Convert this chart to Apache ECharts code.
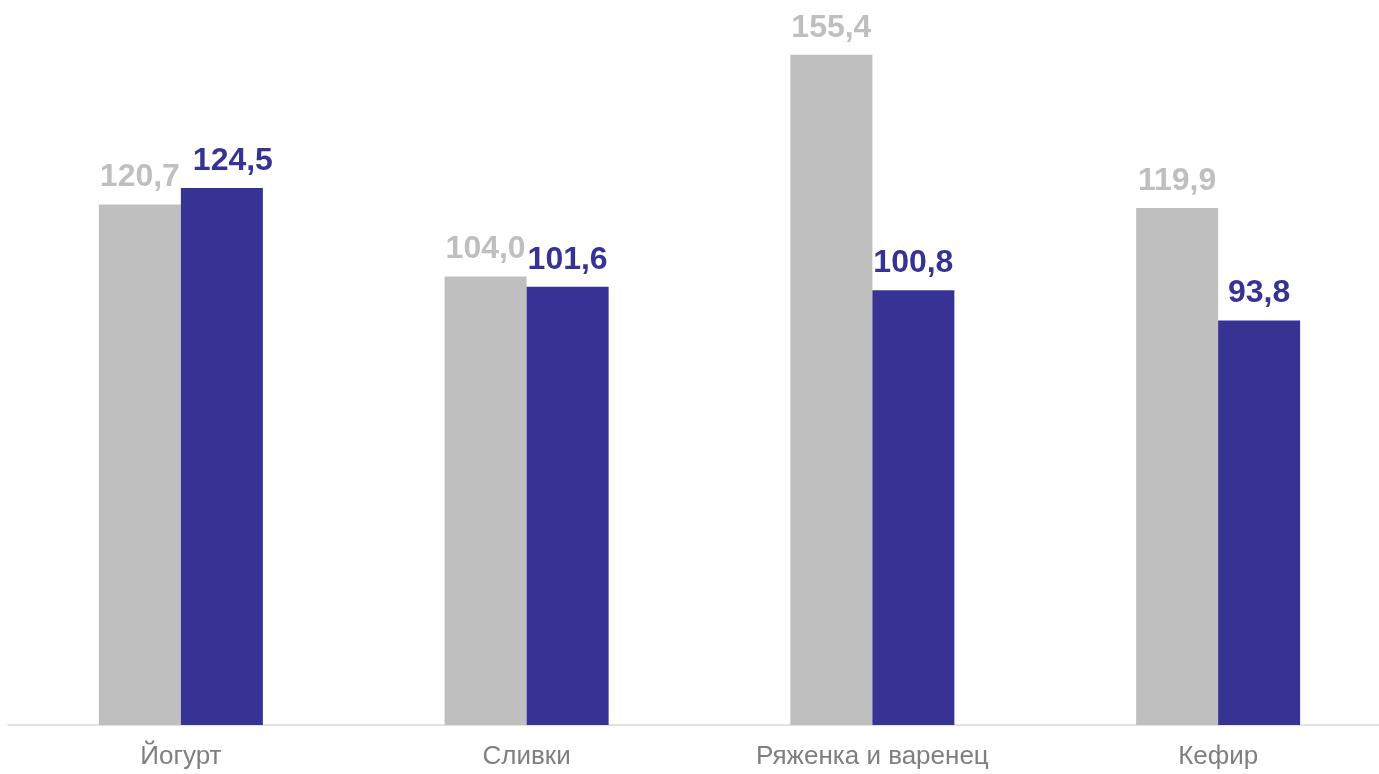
<!DOCTYPE html>
<html>
<head>
<meta charset="utf-8">
<script src="https://cdn.jsdelivr.net/npm/echarts@6/dist/echarts.min.js"></script>
<style>
html,body{margin:0;padding:0;background:#fff;overflow:hidden;width:1379px;height:774px;}
#chart{width:1391px;height:774px;}
</style>
</head>
<body>
<div id="chart"></div>
<script>
const categories = ['Йогурт', 'Сливки', 'Ряженка и варенец', 'Кефир'];
const seriesGrey = [120.7, 104.0, 155.4, 119.9];
const seriesBlue = [124.5, 101.6, 100.8, 93.8];

const chart = echarts.init(document.getElementById('chart'));
const fmt = p => p.value.toFixed(1).replace('.', ',');
const blueData = seriesBlue.map((v, i) => i === 0 ? { value: v, label: { offset: [11, 0] } } : v);
chart.setOption({
  animation: false,
  grid: { left: 8, right: 0, top: 35, bottom: 49, containLabel: false },
  xAxis: {
    type: 'category',
    data: categories,
    axisLine: { lineStyle: { color: '#D9D9D9', width: 1.5 } },
    axisTick: { show: false },
    axisLabel: { color: '#7F7F7F', fontSize: 26, fontFamily: 'Liberation Sans, Arial, sans-serif', margin: 19 }
  },
  yAxis: {
    type: 'value', min: 0, max: 160, show: false,
    splitLine: { show: false }
  },
  series: [
    {
      type: 'bar', data: seriesGrey, barWidth: 82, barGap: '0%',
      itemStyle: { color: '#BFBFBF' },
      label: { show: true, position: 'top', distance: 11, formatter: fmt,
        color: '#BFBFBF', fontSize: 32, fontWeight: 'bold', fontFamily: 'Liberation Sans, Arial, sans-serif' }
    },
    {
      type: 'bar', data: blueData, barWidth: 82, barGap: '0%',
      itemStyle: { color: '#363395' },
      label: { show: true, position: 'top', distance: 11, formatter: fmt,
        color: '#363395', fontSize: 32, fontWeight: 'bold', fontFamily: 'Liberation Sans, Arial, sans-serif' }
    }
  ]
});
</script>
</body>
</html>
